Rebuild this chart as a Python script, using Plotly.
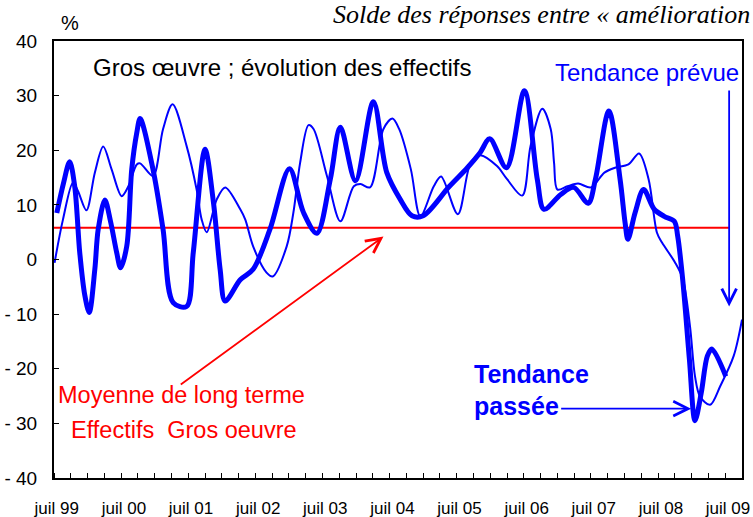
import plotly.graph_objects as go

# ---------------- data ----------------
# x = months since "juil 99" (0 = July 1999)
passee_mois = [0, 1.2, 2.3, 3.2, 4.1, 5.0, 5.8, 6.8, 7.4, 8.6, 9.6, 10.7, 11.4, 12.5, 13.4, 14.3,
               14.9, 17.2, 19.0, 20.8, 23.2, 24.4, 26.5, 28.0, 29.2, 30.1, 32.8, 35.1, 38.1,
               41.6, 44.1, 46.5, 48.9, 50.7, 53.4, 56.6, 59.0, 61.4, 63.5, 65.5, 70.2, 73.4,
               75.7, 77.4, 80.4, 83.6, 85.9, 87.1, 90.1, 92.4, 95.0, 96.3, 98.7, 100.7, 101.6,
               102.1, 103.4, 104.9, 106.8, 108.6, 110.4, 111.0, 111.9, 113.1, 114.1, 115.2,
               116.3, 117.1, 119.6]
passee_val = [8.5, 14.0, 17.9, 13.4, 1.3, -6.5, -9.7, -1.8, 5.5, 10.9, 7.0, 1.3, -1.5, 2.4, 16.5, 23.2,
              25.8, 16.5, 5.5, -7.9, -8.6, 1.3, 20.2, 10.5, -1.8, -7.6, -3.7, -1.8, 5.5,
              16.6, 8.6, 4.8, 14.7, 24.2, 14.4, 28.9, 15.9, 11.0, 8.0, 8.0, 13.4, 16.8,
              19.6, 22.1, 16.8, 30.9, 14.7, 9.2, 11.9, 13.2, 10.3, 14.7, 27.2, 14.7, 6.7,
              3.7, 8.6, 12.8, 9.2, 7.9, 7.0, 4.3, -3.7, -18.3, -29.5, -24.5,
              -17.7, -16.4, -21.4]

prevue_mois = [-0.4, 1.1, 2.9, 3.8, 5.3, 6.8, 8.3, 9.8, 11.6, 12.8, 14.3, 14.9, 17.2, 19.0, 20.7,
               23.2, 25.0, 25.9, 26.8, 28.6, 30.1, 32.8, 33.7, 35.1, 37.5, 38.6, 41.1, 42.3,
               43.5, 45.0, 45.9, 48.3, 50.7, 53.1, 54.3, 56.0, 58.4, 60.0, 61.2, 63.3, 65.0,
               67.4, 68.7, 71.7, 74.0, 75.7, 78.7, 80.5, 83.2, 84.7, 86.8, 88.3, 88.9, 89.5,
               91.3, 93.2, 95.5, 97.9, 99.8, 102.2, 104.1, 105.8, 107.3, 108.2, 110.5, 111.9,
               113.2, 114.1, 115.0, 116.8, 118.6, 121.0, 122.5]
prevue_val = [-0.6, 7.3, 14.1, 12.5, 9.0, 15.9, 20.7, 16.5, 11.6, 13.4, 17.4, 17.6, 15.3, 23.9, 28.4,
              20.8, 12.8, 7.3, 5.0, 11.0, 13.2, 9.2, 7.3, 2.4, -2.4, -3.1, 2.4, 8.6,
              17.7, 24.6, 23.9, 15.3, 7.0, 13.4, 13.8, 13.2, 23.9, 25.8, 23.9, 16.5, 7.9,
              13.4, 15.2, 8.3, 17.7, 19.1, 17.1, 14.7, 11.7, 20.8, 27.6, 23.9, 17.7, 12.8,
              13.4, 13.9, 13.2, 15.9, 16.8, 17.4, 19.4, 14.7, 4.9, 3.1, -0.5, -3.5,
              -12.2, -21.4, -25.1, -26.6, -23.2, -17.7, -11.0]

moyenne_long_terme = 5.8
moyenne_debut, moyenne_fin = -0.5, 120.2

label_mois = [0, 12, 24, 36, 48, 60, 72, 84, 96, 108, 120]
label_txt = ["juil 99", "juil 00", "juil 01", "juil 02", "juil 03", "juil 04",
             "juil 05", "juil 06", "juil 07", "juil 08", "juil 09"]
y_ticks = [40, 30, 20, 10, 0, -10, -20, -30, -40]
y_txt = ["40", "30", "20", "10", "0", "- 10", "- 20", "- 30", "- 40"]

# ---------------- layout geometry ----------------
W, H = 753, 517
L, R, T, B = 54, 11, 41, 39
PW, PH = W - L - R, H - T - B


def px(x):  # x in picture pixels -> paper fraction
    return (x - L) / PW


def py(y):  # y in picture pixels -> paper fraction
    return (H - B - y) / PH


BLUE = "#0000FF"
RED = "#FF0000"
SANS = "Arial, Liberation Sans, sans-serif"

fig = go.Figure()
fig.add_trace(go.Scatter(x=[moyenne_debut, moyenne_fin], y=[moyenne_long_terme] * 2, mode="lines",
                         line=dict(color=RED, width=2), hoverinfo="skip"))
fig.add_trace(go.Scatter(x=prevue_mois, y=prevue_val, mode="lines",
                         line=dict(color=BLUE, width=2, shape="spline", smoothing=0.9)))
fig.add_trace(go.Scatter(x=passee_mois, y=passee_val, mode="lines",
                         line=dict(color=BLUE, width=5, shape="spline", smoothing=0.9)))

ann = []
ann.append(dict(text="%", xref="paper", yref="paper", x=px(70), y=py(23), showarrow=False,
                font=dict(family=SANS, size=20, color="black"), xanchor="center", yanchor="middle"))
ann.append(dict(text="Solde des réponses entre « amélioration", xref="paper", yref="paper",
                x=px(752), y=py(15), showarrow=False, xanchor="right", yanchor="middle",
                font=dict(family="Times New Roman, Liberation Serif, serif", size=26, color="black",
                          style="italic")))
ann.append(dict(text="Gros œuvre ; évolution des effectifs", xref="paper", yref="paper",
                x=px(91), y=py(67), showarrow=False, xanchor="left", yanchor="middle",
                font=dict(family=SANS, size=24, color="black")))
ann.append(dict(text="Tendance prévue", xref="paper", yref="paper",
                x=px(553), y=py(72), showarrow=False, xanchor="left", yanchor="middle",
                font=dict(family=SANS, size=24, color=BLUE)))
ann.append(dict(text="Moyenne de long terme", xref="paper", yref="paper",
                x=px(56), y=py(395), showarrow=False, xanchor="left", yanchor="middle",
                font=dict(family=SANS, size=23.5, color=RED)))
ann.append(dict(text="Effectifs  Gros oeuvre", xref="paper", yref="paper",
                x=px(69), y=py(430), showarrow=False, xanchor="left", yanchor="middle",
                font=dict(family=SANS, size=23.5, color=RED)))
ann.append(dict(text="<b>Tendance</b>", xref="paper", yref="paper",
                x=px(472), y=py(374), showarrow=False, xanchor="left", yanchor="middle",
                font=dict(family=SANS, size=25, color=BLUE)))
ann.append(dict(text="<b>passée</b>", xref="paper", yref="paper",
                x=px(472), y=py(406), showarrow=False, xanchor="left", yanchor="middle",
                font=dict(family=SANS, size=25, color=BLUE)))
# arrows
ann.append(dict(text="", x=58.4, y=4.2, ax=21.9, ay=-23.1, xref="x", yref="y", axref="x", ayref="y",
                showarrow=True, arrowhead=5, arrowsize=1.6, arrowwidth=1.8, arrowcolor=RED,
                standoff=0, startstandoff=0))
ann.append(dict(text="", x=113.4, y=-27.3, ax=89.9, ay=-27.3, xref="x", yref="y", axref="x", ayref="y",
                showarrow=True, arrowhead=5, arrowsize=1.6, arrowwidth=1.8, arrowcolor=BLUE,
                standoff=0, startstandoff=0))
ann.append(dict(text="", x=120.2, y=-8.6, ax=120.2, ay=31.2, xref="x", yref="y", axref="x", ayref="y",
                showarrow=True, arrowhead=5, arrowsize=1.6, arrowwidth=1.8, arrowcolor=BLUE,
                standoff=0, startstandoff=0))

fig.update_layout(
    template="none",
    width=W, height=H,
    margin=dict(l=L, r=R, t=T, b=B, pad=0, autoexpand=False),
    paper_bgcolor="white", plot_bgcolor="white",
    showlegend=False,
    annotations=ann,
    xaxis=dict(range=[-0.5, 122.5], tickmode="array", tickvals=label_mois, ticktext=label_txt,
               ticks="", showgrid=False, zeroline=False, showline=True, linecolor="black",
               linewidth=2, mirror=True, ticklabelstandoff=14, automargin=False,
               tickfont=dict(family=SANS, size=17, color="black"),
               minor=dict(tick0=-0.5, dtick=3, ticks="inside", ticklen=5, tickcolor="black",
                          tickwidth=1, showgrid=False)),
    yaxis=dict(range=[-40, 40], tickmode="array", tickvals=y_ticks, ticktext=y_txt,
               ticks="inside", ticklen=5, tickcolor="black", tickwidth=1,
               showgrid=False, zeroline=False, showline=True, linecolor="black", linewidth=2,
               mirror=True, ticklabelstandoff=11, automargin=False,
               tickfont=dict(family=SANS, size=19, color="black")),
)

# remove the browser's default 8 px page margin so the figure starts at the window corner
fig.write_html("out.html", config={"displayModeBar": False},
               post_script="document.body.style.margin='0';document.body.style.overflow='hidden';")
